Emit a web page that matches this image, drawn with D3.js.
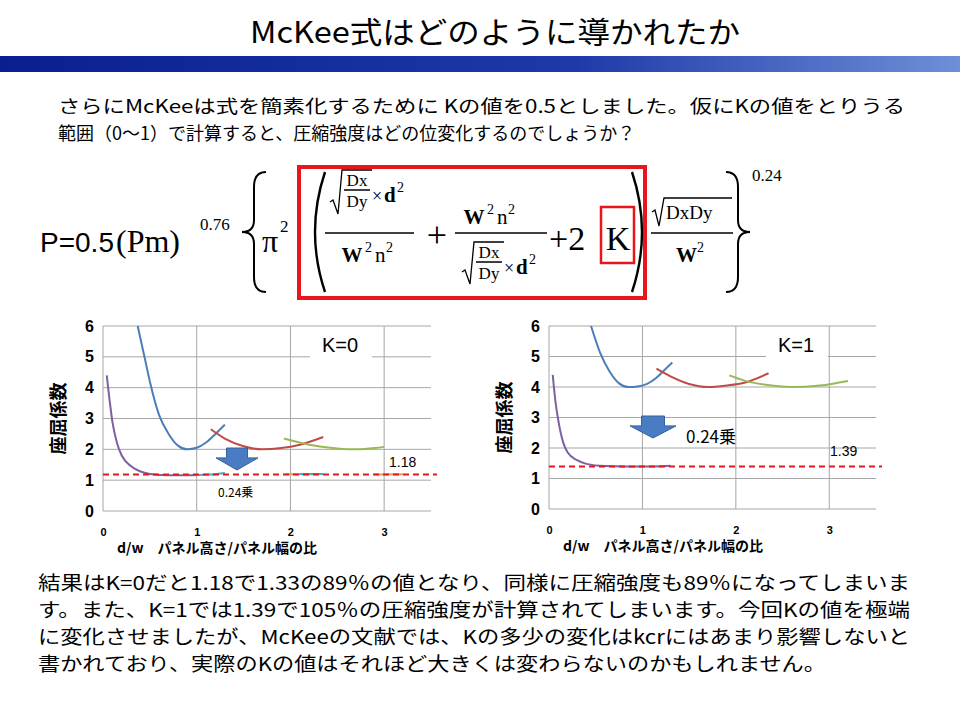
<!DOCTYPE html>
<html><head><meta charset="utf-8">
<script src="https://d3js.org/d3.v7.min.js"></script>
<style>body{margin:0;background:#fff}svg{display:block}</style>
</head><body>
<script>
const xTicks=[0,1,2,3];
const yTicks=[0,1,2,3,4,5,6];
// K=0 series [x,y]
const k0Blue=[[0.37,6],[0.45,4.9],[0.5,4.2],[0.6,3.1],[0.7,2.5],[0.8,2.12],[0.9,2.0],[1.0,2.05],[1.1,2.22],[1.2,2.5],[1.3,2.8]];
const k0Red=[[1.15,2.65],[1.3,2.35],[1.5,2.1],[1.7,2.0],[1.9,2.04],[2.1,2.15],[2.35,2.4]];
const k0Green=[[1.93,2.35],[2.2,2.15],[2.5,2.03],[2.7,2.0],[2.9,2.04],[3.0,2.08]];
const k0Purple=[[0.04,4.4],[0.07,3.6],[0.1,2.9],[0.15,2.2],[0.2,1.8],[0.3,1.45],[0.4,1.28],[0.5,1.2],[0.6,1.17],[0.8,1.16],[1.0,1.17]];
const k0Cyan=[[1.0,1.17],[1.15,1.18],[1.3,1.23]];
const k0Orange=[[1.95,1.2],[2.1,1.19],[2.3,1.2]];
const k0Cyan2=[[2.1,1.2],[2.35,1.2]];
const k0Orange2=[[2.9,1.18],[3.2,1.19]];
const k0Line=1.18;
// K=1 series
const k1Blue=[[0.45,6],[0.55,5.1],[0.65,4.5],[0.75,4.12],[0.85,4.0],[0.95,4.02],[1.05,4.1],[1.15,4.3],[1.25,4.6],[1.32,4.8]];
const k1Red=[[1.15,4.6],[1.3,4.35],[1.5,4.1],[1.7,4.0],[1.9,4.05],[2.1,4.15],[2.35,4.45]];
const k1Green=[[1.93,4.38],[2.1,4.2],[2.3,4.08],[2.6,4.0],[2.9,4.05],[3.2,4.2]];
const k1Purple=[[0.04,4.4],[0.07,3.5],[0.1,2.9],[0.15,2.2],[0.2,1.85],[0.3,1.6],[0.4,1.48],[0.6,1.41],[1.0,1.39],[1.3,1.42]];
const k1Line=1.39;

const svg=d3.select("body").append("svg").attr("width",960).attr("height",720);
const defs=svg.append("defs");
const gr=defs.append("linearGradient").attr("id","band");
gr.append("stop").attr("offset","0").attr("stop-color","#0a1f8f");
gr.append("stop").attr("offset","0.6").attr("stop-color","#1d3aa8");
gr.append("stop").attr("offset","1").attr("stop-color","#6f8fd8");
svg.append("rect").attr("x",0).attr("y",56).attr("width",960).attr("height",16).attr("fill","url(#band)");
const JP="'Noto Sans CJK JP','Noto Sans',sans-serif";
svg.append("text").attr("x",250).attr("y",43).attr("textLength",490).attr("lengthAdjust","spacingAndGlyphs").attr("font-family",JP).attr("font-size",30).text("McKee式はどのように導かれたか");
const intro=["さらにMcKeeは式を簡素化するために Kの値を0.5としました。仮にKの値をとりうる","範囲（0〜1）で計算すると、圧縮強度はどの位変化するのでしょうか？"];
const introLen=[847,null];
intro.forEach((t,i)=>svg.append("text").attr("x",58).attr("y",113+i*27).attr("textLength",introLen[i]).attr("lengthAdjust","spacingAndGlyphs").attr("font-family",JP).attr("font-size",18).text(t));
const outro=["結果はK=0だと1.18で1.33の89％の値となり、同様に圧縮強度も89％になってしまいま","す。また、K=1では1.39で105％の圧縮強度が計算されてしまいます。今回Kの値を極端","に変化させましたが、McKeeの文献では、Kの多少の変化はkcrにはあまり影響しないと","書かれており、実際のKの値はそれほど大きくは変わらないのかもしれません。"];
const outroLen=[872,872,872,788];
outro.forEach((t,i)=>svg.append("text").attr("x",38).attr("y",590+i*27).attr("font-family",JP).attr("font-size",19).attr("textLength",outroLen[i]).attr("lengthAdjust","spacingAndGlyphs").text(t));

// formula
const F="'Liberation Serif','DejaVu Serif',serif";
const fm=svg.append("g").attr("font-family",F);
function tx(x,y,s,size,opt={}){const t=fm.append("text").attr("x",x).attr("y",y).attr("font-size",size).text(s);
 if(opt.anchor)t.attr("text-anchor",opt.anchor); if(opt.bold)t.attr("font-weight","bold"); if(opt.fam)t.attr("font-family",opt.fam); return t;}
tx(40,252,"P=0.5",28,{fam:"'Liberation Sans',sans-serif"});
tx(116,252,"(Pm)",32);
tx(200,230,"0.76",17);
function brace(x,y0,y1,dir){const m=(y0+y1)/2,w=12*dir;
 fm.append("path").attr("d",`M${x+w},${y0} Q${x},${y0} ${x},${y0+15} L${x},${m-12} Q${x},${m} ${x-w},${m} Q${x},${m} ${x},${m+12} L${x},${y1-15} Q${x},${y1} ${x+w},${y1}`).attr("fill","none").attr("stroke","#000").attr("stroke-width",2);}
brace(254,172,292,1); brace(738,172,292,-1);
tx(262,252,"π",32); tx(280,232,"2",17);
function paren(x,y0,y1,dir){fm.append("path").attr("d",`M${x},${y0} Q${x-20*dir},${(y0+y1)/2} ${x},${y1}`).attr("fill","none").attr("stroke","#000").attr("stroke-width",2.4);}
paren(325,172,292,1); paren(632,172,292,-1);
function line(x0,x1,y){fm.append("line").attr("x1",x0).attr("x2",x1).attr("y1",y).attr("y2",y).attr("stroke","#000").attr("stroke-width",1.5);}
function sqrtFrac(x,yTop,yBot){
 fm.append("path").attr("d",`M${x},${yBot-12} L${x+3},${yBot-14} L${x+8},${yBot} L${x+12},${yTop} L${x+42},${yTop}`).attr("fill","none").attr("stroke","#000").attr("stroke-width",1.3);
 tx(x+27,yTop+16,"Dx",17,{anchor:"middle"}); line(x+14,x+40,yTop+20); tx(x+27,yTop+37,"Dy",17,{anchor:"middle"});
 tx(x+42,yTop+32,"×",18); tx(x+54,yTop+32,"d",21,{bold:true}); tx(x+67,yTop+22,"2",14);}
sqrtFrac(330,170,214); line(325,414,233);
tx(352,262,"W",21,{anchor:"middle",bold:true}); tx(365,252,"2",14); tx(375,262,"n",21); tx(386,252,"2",14);
tx(437,247,"+",36,{anchor:"middle"});
tx(474,224,"W",21,{anchor:"middle",bold:true}); tx(487,214,"2",14); tx(497,224,"n",21); tx(508,214,"2",14);
line(455,547,233); sqrtFrac(462,242,284);
tx(549,250,"+2",34); tx(618,250,"K",34,{anchor:"middle"});
fm.append("path").attr("d","M652,212 L655,210 L659,226 L664,198 L732,198").attr("fill","none").attr("stroke","#000").attr("stroke-width",1.3);
tx(666,219,"DxDy",19); line(651,733,233); tx(676,262,"W",21,{bold:true}); tx(697,252,"2",14);
tx(752,181,"0.24",17);
svg.append("rect").attr("x",299).attr("y",167).attr("width",346).attr("height",131).attr("fill","none").attr("stroke","#e8161c").attr("stroke-width",4);
svg.append("rect").attr("x",601).attr("y",207).attr("width",33).attr("height",56).attr("fill","none").attr("stroke","#e8161c").attr("stroke-width",2.5);
</script>
<script>
function chart(x0,x1,y0,y1,series,hline,kLabel,opts){
 const x=d3.scaleLinear().domain([0,3.5]).range([x0,x1]);
 const y=d3.scaleLinear().domain([0,6]).range([y1,y0]);
 const g=svg.append("g");
 g.selectAll(".vg").data(xTicks).join("line").attr("x1",d=>x(d)).attr("x2",d=>x(d)).attr("y1",y(6)).attr("y2",y(0)).attr("stroke","#a6a6a6").attr("stroke-width",1);
 g.selectAll(".hg").data(yTicks).join("line").attr("x1",x(0)).attr("x2",x1).attr("y1",d=>y(d)).attr("y2",d=>y(d)).attr("stroke","#a6a6a6").attr("stroke-width",1);
 const ya=g.append("g").attr("transform",`translate(${x(0)-6},0)`).call(d3.axisLeft(y).tickValues(yTicks).tickSize(0).tickFormat(d3.format("d")));
 ya.select(".domain").remove(); ya.selectAll("text").attr("font-family","'Liberation Sans',sans-serif").attr("font-weight","bold").attr("font-size",16).attr("fill","#000");
 const xa=g.append("g").attr("transform",`translate(0,${y(0)+14})`).call(d3.axisBottom(x).tickValues(xTicks).tickSize(0).tickFormat(d3.format("d")));
 xa.select(".domain").remove(); xa.selectAll("text").attr("font-family","'Liberation Sans',sans-serif").attr("font-weight","bold").attr("font-size",11).attr("fill","#000");
 g.append("rect").attr("x",opts.kx-12).attr("y",y0+2).attr("width",62).attr("height",30).attr("fill","#fff");
 g.append("text").attr("x",opts.kx).attr("y",y0+26).attr("font-family","'Liberation Sans',sans-serif").attr("font-size",20).text(kLabel);
 const ln=d3.line().x(d=>x(d[0])).y(d=>y(d[1])).curve(d3.curveMonotoneX);
 series.forEach(s=>g.append("path").attr("d",ln(s.d)).attr("fill","none").attr("stroke",s.c).attr("stroke-width",2));
 g.append("line").attr("x1",x(0)).attr("x2",x1+6).attr("y1",y(hline)).attr("y2",y(hline)).attr("stroke","#e8161c").attr("stroke-width",2).attr("stroke-dasharray","6,4");
 g.append("text").attr("x",opts.vx).attr("y",opts.vy).attr("font-family","'Liberation Sans',sans-serif").attr("font-size",14).text(d3.format(".2f")(hline));
 const [ax,ay,aw,ah]=opts.arrow;
 g.append("path").attr("d",`M${ax+aw*0.25},${ay} L${ax+aw*0.75},${ay} L${ax+aw*0.75},${ay+ah*0.45} L${ax+aw},${ay+ah*0.45} L${ax+aw/2},${ay+ah} L${ax},${ay+ah*0.45} L${ax+aw*0.25},${ay+ah*0.45}Z`).attr("fill","#4a7cc4").attr("stroke","#36609e").attr("stroke-width",1);
 g.append("text").attr("x",opts.px).attr("y",opts.py).attr("font-family","'Noto Sans CJK JP',sans-serif").attr("font-size",opts.ps).text("0.24乗");
 g.append("text").attr("transform",`translate(${x0-38},${(y0+y1)/2}) rotate(-90)`).attr("text-anchor","middle").attr("font-family","'Noto Sans CJK JP',sans-serif").attr("font-weight","bold").attr("font-size",18).text("座屈係数");
 g.append("text").attr("x",x0+14).attr("y",y1+42).attr("font-family","'Noto Sans CJK JP',sans-serif").attr("font-weight","bold").attr("font-size",14).text("d/w　パネル高さ/パネル幅の比");
}
chart(103,431,326,511,[
 {d:k0Blue,c:"#4a7ebb"},{d:k0Red,c:"#be4b48"},{d:k0Green,c:"#98b954"},{d:k0Purple,c:"#7d60a0"},
 {d:k0Cyan,c:"#46aac5"},{d:k0Orange,c:"#f79646"},{d:k0Cyan2,c:"#46aac5"},{d:k0Orange2,c:"#f79646"}],
 k0Line,"K=0",{kx:322,vx:389,vy:467,arrow:[216,448,42,22],px:218,py:497,ps:12});
chart(549,876,326,509,[
 {d:k1Blue,c:"#4a7ebb"},{d:k1Red,c:"#be4b48"},{d:k1Green,c:"#98b954"},{d:k1Purple,c:"#7d60a0"}],
 k1Line,"K=1",{kx:778,vx:830,vy:456,arrow:[630,416,46,22],px:686,py:443,ps:17});
</script>
</body></html>
